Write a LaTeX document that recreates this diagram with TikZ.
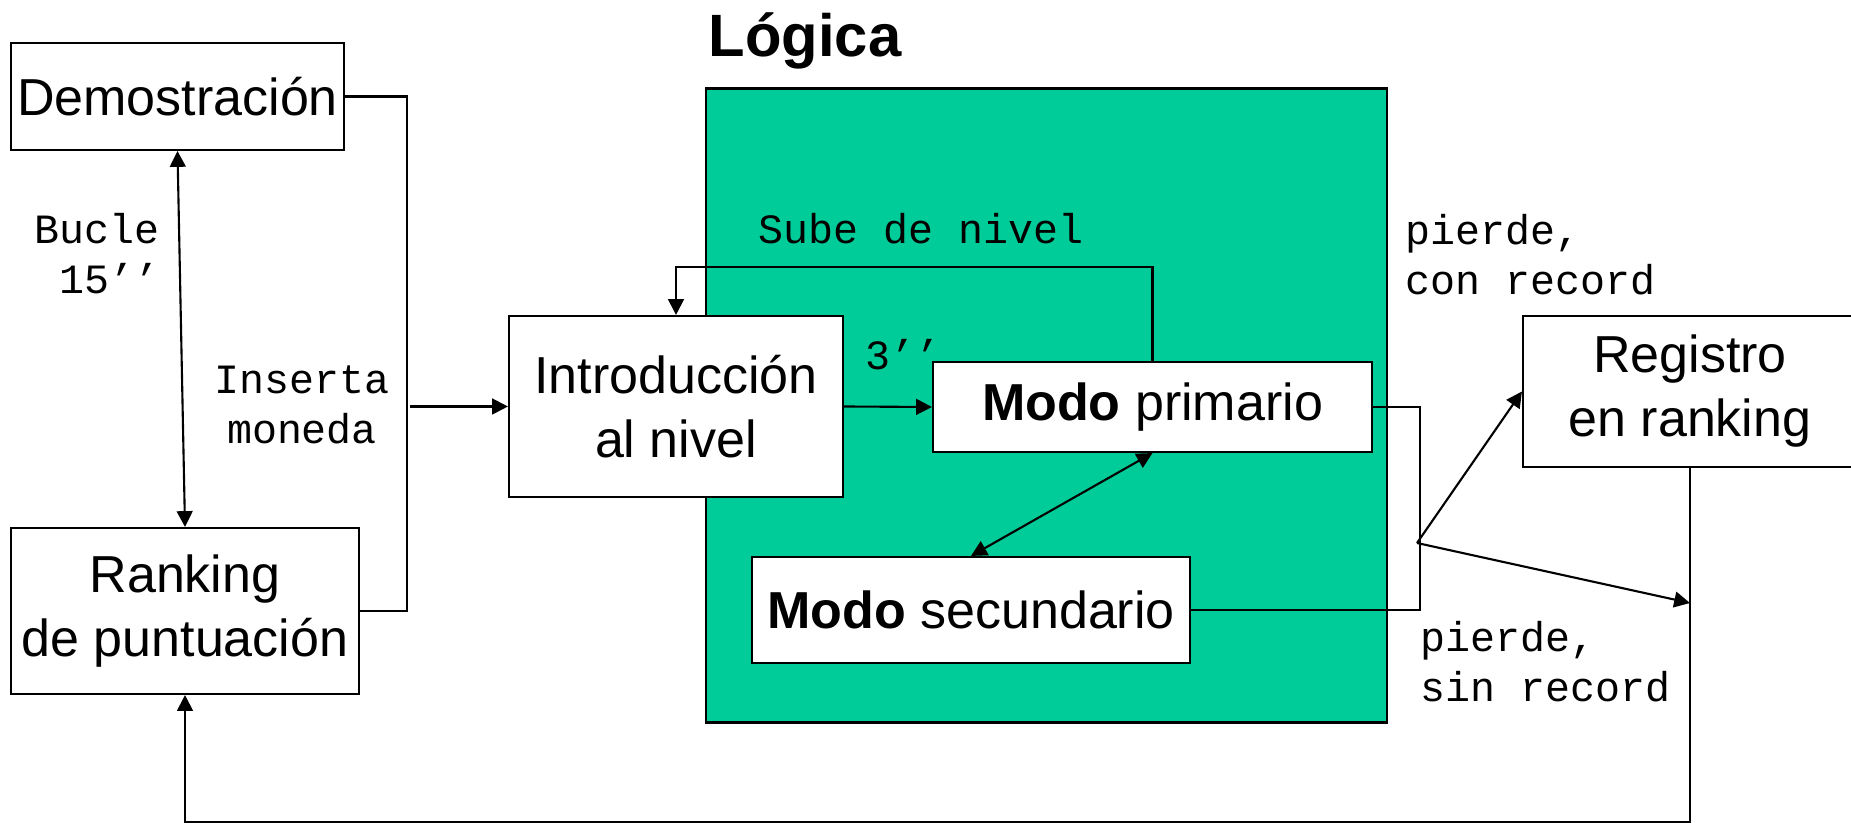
\documentclass[tikz,border=0pt]{standalone}
\usepackage{fontspec}
\setmainfont{Liberation Sans}
\setmonofont{Liberation Mono}
\usetikzlibrary{arrows.meta}
\definecolor{logicgreen}{RGB}{0,204,153}
\tikzset{
stage/.style = { rectangle, draw = black, fill = white, line width = 0.6pt, inner sep = 0pt, align = center, font = \fontsize{14.8}{18.2}\selectfont },
remark/.style = { inner sep = 0pt, font = \fontsize{11.85}{14.5}\selectfont\ttfamily },
flow/.style = { draw = black, line width = 0.6pt },
}

\begin{document}
\begin{tikzpicture}[>={Triangle[length = 4.5pt, width = 4.5pt]}]
    \useasboundingbox (0, 0) rectangle (18.51, 8.23);
    % game logic panel
    \path[draw = black, fill = logicgreen, line width = 0.6pt] (7.06, 1.005) rectangle (13.87, 7.345);
    \node[anchor = base west, inner sep = 0pt, font = \fontsize{17}{20}\selectfont\bfseries] (title) at (7.08, 7.66) {Lógica};

    \node[stage, minimum width = 3.33cm, minimum height = 1.07cm] (demo) at (1.775, 7.265) {Demostración};
    \node[stage, minimum width = 3.48cm, minimum height = 1.66cm] (rank) at (1.85, 2.12) {Ranking\\de puntuación};
    \node[stage, minimum width = 3.34cm, minimum height = 1.81cm] (intro) at (6.76, 4.165) {Introducción\\al nivel};
    \node[stage, minimum width = 4.39cm, minimum height = 0.90cm] (prim) at (11.525, 4.16) {\textbf{Modo} primario};
    \node[stage, minimum width = 4.38cm, minimum height = 1.06cm] (sec) at (9.71, 2.13) {\textbf{Modo} secundario};
    \node[stage, minimum width = 3.34cm, minimum height = 1.51cm] (reg) at (16.90, 4.315) {Registro\\en ranking};

    % base of a two-line remark is its last line
    \node[remark, anchor = base east, align = right] (loop) at (1.60, 5.29) {Bucle\\15’’};
    \node[remark, anchor = base, align = center] (coin) at (3.02, 3.79) {Inserta\\moneda};
    \node[remark, anchor = base west] (up) at (7.58, 5.79) {Sube de nivel};
    \node[remark, anchor = base west] (wait) at (8.65, 4.53) {3’’};
    \node[remark, anchor = base west, align = left] (best) at (14.05, 5.28) {pierde,\\con record};
    \node[remark, anchor = base west, align = left] (worst) at (14.20, 1.21) {pierde,\\sin record};

    \coordinate (coin in) at (4.10, 4.165);
    \coordinate (split) at (14.17, 2.80);
    \coordinate (lost) at (16.90, 2.20);
    \coordinate (floor) at (0, 0.01);

    \path[flow] (demo.east) -- ++(0.62, 0) |- (rank.east);
    \path[flow, <->] (demo.south) -- (rank.north);
    \path[flow, ->] (coin in) -- (intro.west);
    \path[flow, ->] (intro.east) -- (prim.west);
    \path[flow, ->] (prim.north) -- ++(0, 0.94) -| (intro.north);
    \path[flow, <->] (sec.north) -- (prim.south);
    \path[flow] (prim.east) -- ++(0.47, 0) |- (sec.east);
    \path[flow, ->] (split) -- (reg.west);
    \path[flow, ->] (split) -- (lost);
    \path[flow, ->] (reg.south) |- (rank.south |- floor) -- (rank.south);
\end{tikzpicture}
\end{document}
